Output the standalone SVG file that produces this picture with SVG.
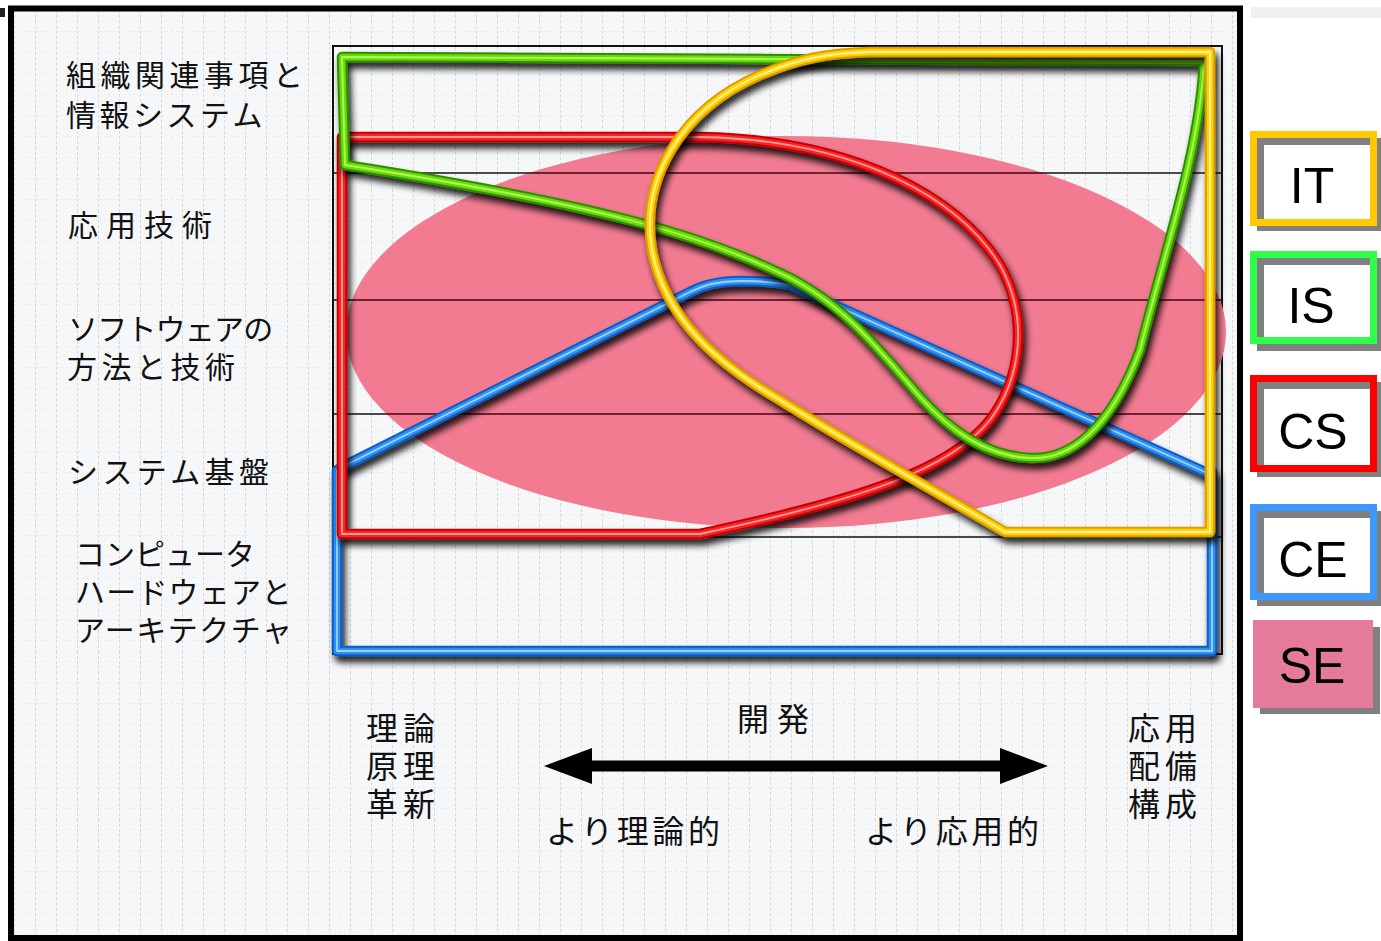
<svg xmlns="http://www.w3.org/2000/svg" width="1381" height="941" viewBox="0 0 1381 941">
<defs>
<style>
.lbl{font-family:"Noto Sans CJK JP","Noto Sans CJK SC",sans-serif;font-size:30px;fill:#111}
.bl{font-size:32px}
.leg{font-family:"Liberation Sans",Arial,sans-serif;font-size:50px;fill:#000;text-anchor:middle}
.o{fill:none;stroke-linejoin:round;stroke-width:10.5}
.m{fill:none;stroke-linejoin:round;stroke-width:6.5}
.h{fill:none;stroke-linejoin:round;stroke-width:1.8}
.gl{stroke:#111;stroke-width:1.5}
.glp{stroke:#7d1f30;stroke-width:1.5}
.lf{fill:#fff;stroke:#808080;stroke-width:7}
.lc{fill:none;stroke-width:7}
</style>
<pattern id="grid" width="21" height="21" patternUnits="userSpaceOnUse" x="4" y="0">
<rect width="21" height="21" fill="#f6f7f9"/>
<path d="M10.5,0 V21" stroke="#d6d9dd" stroke-width="1" stroke-dasharray="3 2"/>
<path d="M0,10.5 H21" stroke="#e4e6e9" stroke-width="1" stroke-dasharray="1 3"/>
</pattern>
<filter id="sh" x="-10%" y="-10%" width="125%" height="130%">
<feGaussianBlur in="SourceAlpha" stdDeviation="3.5"/>
<feOffset dx="3" dy="6" result="b"/>
<feComponentTransfer><feFuncA type="linear" slope="0.9"/></feComponentTransfer>
<feMerge><feMergeNode/><feMergeNode in="SourceGraphic"/></feMerge>
</filter>
<clipPath id="ellClip"><ellipse cx="786" cy="332" rx="440" ry="196"/></clipPath>
<marker id="ah" viewBox="0 0 10 10" refX="0" refY="5" markerWidth="48" markerHeight="36" markerUnits="userSpaceOnUse" preserveAspectRatio="none" orient="auto-start-reverse">
<path d="M0,0 L10,5 L0,10 Z" fill="#000"/>
</marker>
<path id="pCE" d="M337,470 L348,464 L690,292 C705,284 720,281 740,281 C760,281 775,282 790,285 L1205,472 L1212,472 L1212,651 L337,651 Z"/>
<path id="pCS" d="M342,137 L700,137 C860,140 960,200 1000,265 C1030,320 1020,380 990,420 C950,470 860,500 700,534 L342,534 Z"/>
<path id="pIS" d="M342,57 L1204,61 C1200,150 1165,250 1140,350 C1110,430 1070,460 1030,458 C985,456 950,430 920,397 C880,350 840,300 780,273 C700,235 600,205 345,165 Z"/>
<path id="pIT" d="M1210,52 L1210,532 L1005,532 C960,505 860,450 780,400 C720,365 665,320 652,250 C640,180 680,110 760,75 C800,58 830,53 870,52 Z"/>
</defs>

<rect x="0" y="0" width="1381" height="941" fill="#fff"/>
<rect x="0" y="8" width="5" height="9" fill="#222"/>
<rect x="1251" y="7" width="130" height="11" fill="#f0f0f0"/>
<rect id="frame" x="11" y="8.5" width="1229" height="929.5" fill="url(#grid)" stroke="#000" stroke-width="6"/>

<g id="plot">
<rect x="333" y="46" width="889" height="608" fill="none" stroke="#111" stroke-width="2"/>
<ellipse id="node-SE" cx="786" cy="332" rx="440" ry="196" fill="#f27b91"/>
<g id="gridlines">
<line class="gl" x1="334" y1="173" x2="1221" y2="173"/>
<line class="gl" x1="334" y1="300" x2="1221" y2="300"/>
<line class="gl" x1="334" y1="414" x2="1221" y2="414"/>
<line class="gl" x1="334" y1="537" x2="1221" y2="537"/>
<g clip-path="url(#ellClip)">
<line class="glp" x1="334" y1="173" x2="1221" y2="173"/>
<line class="glp" x1="334" y1="300" x2="1221" y2="300"/>
<line class="glp" x1="334" y1="414" x2="1221" y2="414"/>
<line class="glp" x1="334" y1="537" x2="1221" y2="537"/>
</g>
</g>
<g id="node-CE" filter="url(#sh)">
<use href="#pCE" class="o" stroke="#0b5cc4"/>
<use href="#pCE" class="m" stroke="#2e90f0"/>
<use href="#pCE" class="h" stroke="#9fd2ff"/>
</g>
<g id="node-CS" filter="url(#sh)">
<use href="#pCS" class="o" stroke="#c40000"/>
<use href="#pCS" class="m" stroke="#ff2424"/>
<use href="#pCS" class="h" stroke="#ffa0a0"/>
</g>
<g id="node-IS" filter="url(#sh)">
<use href="#pIS" class="o" stroke="#2e8c00"/>
<use href="#pIS" class="m" stroke="#66dd00"/>
<use href="#pIS" class="h" stroke="#b6f56a"/>
</g>
<g id="node-IT" filter="url(#sh)">
<use href="#pIT" class="o" stroke="#e09a00"/>
<use href="#pIT" class="m" stroke="#ffd400"/>
<use href="#pIT" class="h" stroke="#fff2a0"/>
</g>
</g>

<g id="y-labels" class="lbl">
<text x="66" y="86"><tspan x="66" y="86" letter-spacing="4.5">組織関連事項と</tspan><tspan x="66" y="126" letter-spacing="3.5">情報システム</tspan></text>
<text x="68" y="236" textLength="144" lengthAdjust="spacing">応用技術</text>
<text x="68" y="340"><tspan x="68" y="340" letter-spacing="-0.8">ソフトウェアの</tspan><tspan x="67" y="378" letter-spacing="4.5">方法と技術</tspan></text>
<text x="68" y="483" textLength="201" lengthAdjust="spacing">システム基盤</text>
<text x="75" y="565"><tspan x="75" y="565" letter-spacing="0">コンピュータ</tspan><tspan x="75" y="603" letter-spacing="1.2">ハードウェアと</tspan><tspan x="75" y="641" letter-spacing="1.5">アーキテクチャ</tspan></text>
</g>

<g id="x-labels" class="lbl bl">
<text x="366" y="740"><tspan x="366" y="740" letter-spacing="5">理論</tspan><tspan x="366" y="778" letter-spacing="5">原理</tspan><tspan x="366" y="816" letter-spacing="5">革新</tspan></text>
<text x="737" y="731" textLength="72" lengthAdjust="spacing">開発</text>
<text x="546" y="843" textLength="174" lengthAdjust="spacing">より理論的</text>
<text x="865" y="843" textLength="174" lengthAdjust="spacing">より応用的</text>
<text x="1128" y="740"><tspan x="1128" y="740" letter-spacing="5">応用</tspan><tspan x="1128" y="778" letter-spacing="5">配備</tspan><tspan x="1128" y="816" letter-spacing="5">構成</tspan></text>
</g>

<g id="connectors">
<line x1="592" y1="766" x2="1000" y2="766" stroke="#000" stroke-width="11" marker-start="url(#ah)" marker-end="url(#ah)"/>
</g>

<g id="legend-IT">
<rect class="lf" x="1260.5" y="141.5" width="117" height="86"/>
<rect class="lc" x="1253.5" y="134.5" width="120" height="88" stroke="#ffc800"/>
<text class="leg" x="1312" y="203">IT</text>
</g>
<g id="legend-IS">
<rect class="lf" x="1260.5" y="261.5" width="117" height="86"/>
<rect class="lc" x="1253.5" y="254.5" width="120" height="86" stroke="#2eff4a"/>
<text class="leg" x="1311" y="323">IS</text>
</g>
<g id="legend-CS">
<rect class="lf" x="1260.5" y="385.5" width="117" height="88"/>
<rect class="lc" x="1253.5" y="378.5" width="120" height="90" stroke="#ff0000"/>
<text class="leg" x="1313" y="449">CS</text>
</g>
<g id="legend-CE">
<rect class="lf" x="1260.5" y="514.5" width="117" height="88"/>
<rect class="lc" x="1253.5" y="507.5" width="120" height="89" stroke="#3c98ff"/>
<text class="leg" x="1313" y="577">CE</text>
</g>
<g id="legend-SE">
<rect x="1260" y="627" width="120" height="87" fill="#808080"/>
<rect x="1253" y="620" width="120" height="88" fill="#e57a9b"/>
<text class="leg" x="1312" y="683">SE</text>
</g>
</svg>
